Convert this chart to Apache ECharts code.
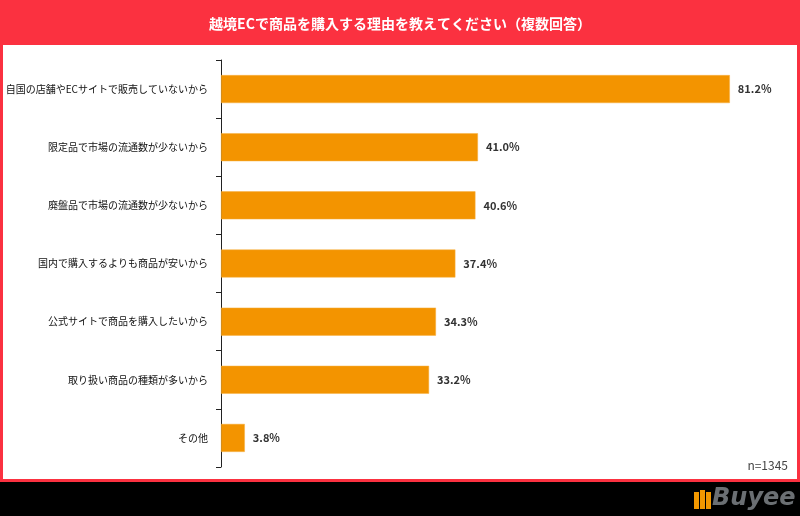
<!DOCTYPE html>
<html><head><meta charset="utf-8">
<script src="https://cdn.jsdelivr.net/npm/echarts@6/dist/echarts.min.js"></script>
<style>html,body{margin:0;padding:0;background:#000}#c{width:800px;height:516px}</style>
</head><body><div id="c"></div>
<script>
const categories = ['自国の店舗やECサイトで販売していないから','限定品で市場の流通数が少ないから','廃盤品で市場の流通数が少ないから','国内で購入するよりも商品が安いから','公式サイトで商品を購入したいから','取り扱い商品の種類が多いから','その他'];
const values = [81.2, 41.0, 40.6, 37.4, 34.3, 33.2, 3.8];
const titleText = '越境ECで商品を購入する理由を教えてください（複数回答）';
const noteText = 'n=1345';
const font = '"Noto Sans CJK JP", "Noto Sans", sans-serif';
const chart = echarts.init(document.getElementById('c'));
chart.setOption({
  backgroundColor: '#000',
  animation: false,
  title: {text: titleText, left: 'center', top: 12, textStyle: {color: '#fff', fontSize: 14, fontWeight: 'bold', fontFamily: font}},
  graphic: [
    {type: 'rect', z: -10, shape: {x: 0, y: 0, width: 800, height: 482}, style: {fill: '#fb3140'}},
    {type: 'rect', z: -9, shape: {x: 3, y: 45, width: 794, height: 434}, style: {fill: '#fff'}},
    {type: 'text', right: 12, top: 459, style: {text: noteText, fill: '#444', font: '12px ' + font}},
    {type: 'group', left: 694, top: 487, children: [
      {type: 'rect', shape: {x: 0, y: 3, width: 5, height: 17}, style: {fill: '#f39800'}},
      {type: 'rect', shape: {x: 6, y: 1, width: 5, height: 19}, style: {fill: '#f39800'}},
      {type: 'rect', shape: {x: 12, y: 3, width: 5, height: 17}, style: {fill: '#f39800'}},
      {type: 'text', x: 18, y: -2, style: {text: 'Buyee', fill: '#6b6f73', font: 'italic bold 24px "DejaVu Sans", sans-serif'}}
    ]}
  ],
  grid: {left: 221, top: 60, width: 564, height: 407, containLabel: false, outerBoundsMode: 'none'},
  xAxis: {type: 'value', min: 0, max: 90, show: false},
  yAxis: {
    type: 'category', data: categories, inverse: true,
    axisLine: {show: true, lineStyle: {color: '#222', width: 1}},
    axisTick: {show: true, length: 5, lineStyle: {color: '#222'}},
    axisLabel: {color: '#111', fontSize: 10, margin: 13, fontFamily: font}
  },
  series: [{
    type: 'bar', data: values, barWidth: 28,
    itemStyle: {color: '#f39400', borderColor: '#f7b040', borderWidth: 0.5},
    label: {show: true, position: 'right', distance: 8, formatter: p => p.value.toFixed(1) + '%', color: '#333', fontSize: 11, fontWeight: 'bold', fontFamily: font}
  }]
});
</script></body></html>
